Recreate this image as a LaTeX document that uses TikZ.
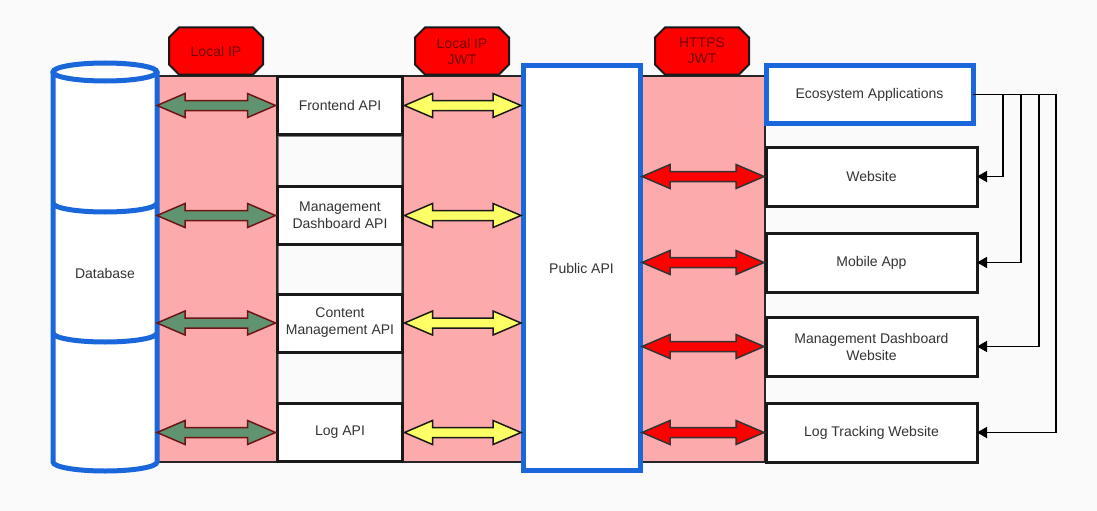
\documentclass[tikz,border=0pt]{standalone}
\usepackage{fontspec}
\setmainfont{Liberation Sans}
\usepackage{tikz}
\usetikzlibrary{calc}
\usetikzlibrary{shapes}
\usetikzlibrary{arrows.meta}
\definecolor{bandpink}{RGB}{252,170,172}
\definecolor{dbblue}{RGB}{26,102,219}
\definecolor{rimred}{RGB}{110,20,20}
\definecolor{tagtext}{RGB}{115,0,0}
\definecolor{leaf}{RGB}{96,148,112}
\definecolor{lemon}{RGB}{255,255,102}
\definecolor{ink}{RGB}{51,51,51}
\definecolor{paper}{RGB}{250,250,250}

\begin{document}
\begin{tikzpicture}[x=1pt,y=-1pt,outer sep=0pt,
  lbl/.style={text=ink,align=center,font=\fontsize{14}{17}\selectfont},
  box/.style={lbl,draw=black!90,line width=3pt,fill=white,minimum width=125pt,minimum height=58pt,inner sep=0pt},
  bluebox/.style={lbl,draw=dbblue,line width=5pt,fill=white,inner sep=0pt},
  gapbox/.style={draw=gray,line width=1pt,fill=paper,minimum width=123pt},
  band/.style={draw=black!85,line width=2pt,fill=bandpink},
  tag/.style={chamfered rectangle,chamfered rectangle xsep=5pt,chamfered rectangle ysep=5pt,
    draw=black!90,line width=2pt,fill=red,text=tagtext,align=center,
    minimum width=94pt,minimum height=47pt,inner sep=0pt,font=\fontsize{14}{16}\selectfont},
  fat/.style={to path={let \p1=(\tikztostart), \p2=(\tikztotarget) in
    (\x1,\y1) -- (\x1+28pt,\y1+12pt) -- (\x1+28pt,\y1+5pt) -- (\x2-28pt,\y2+5pt)
    -- (\x2-28pt,\y2+12pt) -- (\x2,\y2) -- (\x2-28pt,\y2-12pt) -- (\x2-28pt,\y2-5pt)
    -- (\x1+28pt,\y1-5pt) -- (\x1+28pt,\y1-12pt) -- cycle}},
  feed/.style={line width=1.5pt,-{Triangle[length=10pt,width=11pt]}}
]
\useasboundingbox (0,0) rectangle (1097,511);
\fill[paper] (0,0) rectangle (1097,511);

% pink bands
\draw[band] (157,76) rectangle (277,462);
\draw[band] (403,76) rectangle (523,462);
\draw[band] (640,76) rectangle (765,462);

% tags
\node[tag] (t1) at (216,51) {Local IP};
\node[tag] (t2) at (462,51) {Local IP\\JWT};
\node[tag] (t3) at (702,51) {HTTPS\\JWT};

% database
\filldraw[fill=white,draw=dbblue,line width=5pt] (53,72) -- (53,462)
  arc[start angle=180,end angle=360,x radius=52pt,y radius=9pt] -- (157,72);
\draw[dbblue,line width=5pt] (105,72) ellipse [x radius=52pt,y radius=9pt];
\draw[dbblue,line width=5pt] (53,203) arc[start angle=180,end angle=360,x radius=52pt,y radius=9pt];
\draw[dbblue,line width=5pt] (53,333) arc[start angle=180,end angle=360,x radius=52pt,y radius=9pt];
\node[lbl,minimum width=104pt,minimum height=400pt] (db) at (105,273) {Database};

% api column
\node[gapbox,minimum height=50pt] (g1) at (340,161) {};
\node[gapbox,minimum height=50pt] (g2) at (340,270) {};
\node[gapbox,minimum height=50pt] (g3) at (340,378) {};
\node[box] (fe) at (340,105.5) {Frontend API};
\node[box] (mg) at (340,215.5) {Management\\Dashboard API};
\node[box] (cm) at (340,323) {Content\\Management API};
\node[box] (lg) at (340,432.5) {Log API};

% public api
\node[bluebox,minimum width=117pt,minimum height=404pt] (pub) at (581.5,268) {Public API};

% apps
\node[bluebox,minimum width=207pt,minimum height=57pt] (eco) at (869.5,94.5) {Ecosystem Applications};
\node[box,minimum width=211pt,minimum height=59pt] (web) at (871.5,176.5) {Website};
\node[box,minimum width=211pt,minimum height=59pt] (mob) at (871.5,262.5) {Mobile App};
\node[box,minimum width=211pt,minimum height=59pt] (mdw) at (871.5,346.5) {Management Dashboard\\Website};
\node[box,minimum width=211pt,minimum height=59pt] (ltw) at (871.5,432.5) {Log Tracking Website};

% local ip arrows
\foreach \n in {fe,mg,cm,lg}
  \draw[fat,fill=leaf,draw=rimred,line width=1.5pt] (db.east |- \n.west) to ([xshift=-2pt]\n.west);
% local ip + jwt arrows
\foreach \n in {fe,mg,cm,lg}
  \draw[fat,fill=lemon,draw=black!90,line width=1.5pt] ([xshift=2pt]\n.east) to ([xshift=-2pt]pub.west |- \n.east);
% https arrows
\foreach \n in {web,mob,mdw,ltw}
  \draw[fat,fill=red,draw=black!80,line width=1.5pt] ([xshift=2pt]pub.east |- \n.west) to ([xshift=-2pt]\n.west);

% ecosystem feeds
\draw[feed] (eco.east) -| ([xshift=26pt]web.east) -- (web.east);
\draw[feed] (eco.east) -| ([xshift=44pt]mob.east) -- (mob.east);
\draw[feed] (eco.east) -| ([xshift=62pt]mdw.east) -- (mdw.east);
\draw[feed] (eco.east) -| ([xshift=79pt]ltw.east) -- (ltw.east);
\end{tikzpicture}
\end{document}
